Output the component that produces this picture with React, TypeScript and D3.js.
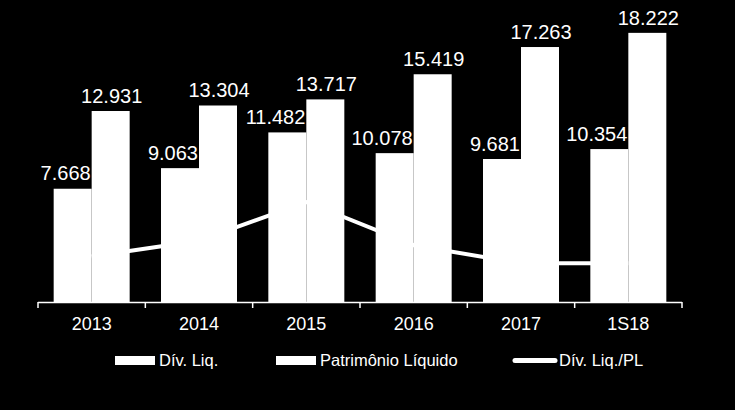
import React from "react";
import * as d3 from "d3";

const categories = ["2013", "2014", "2015", "2016", "2017", "1S18"];
const divLiq = [7.668, 9.063, 11.482, 10.078, 9.681, 10.354];
const patrimonio = [12.931, 13.304, 13.717, 15.419, 17.263, 18.222];
const divPl = [0.6, 0.67, 0.84, 0.65, 0.57, 0.57];
const seriesNames = ["Dív. Liq.", "Patrimônio Líquido", "Dív. Liq./PL"];

const fmt = (v: number) => v.toFixed(3);

export default function App() {
  const W = 735, H = 410;
  const left = 38, right = 682, base = 302, top = 6.6;
  const x = d3.scaleBand<string>().domain(categories).range([left, right]).padding(0);
  const bw = x.bandwidth();
  const x1 = d3.scaleBand<string>().domain(["div", "pl"]).range([bw * 0.146, bw * 0.854]).padding(0);
  const y = d3.scaleLinear().domain([0, 20]).range([base, top]);
  const y2 = d3.scaleLinear().domain([0.4, 1.7]).range([base, top]);
  const line = d3.line<number>()
    .x((_, i) => (x(categories[i]) as number) + bw / 2)
    .y((d) => y2(d));
  const font = "'Liberation Sans', Arial, sans-serif";
  React.useEffect(() => {
    document.body.style.background = "#000";
  }, []);
  const ticks = [...categories.map((c) => x(c) as number), right];
  return (
    <svg width={W} height={H} style={{ position: "fixed", left: 0, top: 0, background: "#000" }} fontFamily={font}>
      <rect x={0} y={0} width={W} height={H} fill="#000" />
      <path d={line(divPl) || ""} fill="none" stroke="#fff" strokeWidth={4} strokeLinejoin="round" />
      {categories.map((c, i) => {
        const gx = x(c) as number;
        const xd = gx + (x1("div") as number);
        const xp = gx + (x1("pl") as number);
        const w = x1.bandwidth();
        return (
          <g key={c}>
            <rect x={xd} y={y(divLiq[i])} width={w} height={base - y(divLiq[i])} fill="#fff" />
            <rect x={xp} y={y(patrimonio[i])} width={w} height={base - y(patrimonio[i])} fill="#fff" />
            <text x={xd + w - 1} y={y(divLiq[i]) - 8.5} fill="#fff" fontSize={20} textAnchor="end">{fmt(divLiq[i])}</text>
            <text x={xp + w / 2 + 1} y={y(patrimonio[i]) - 8} fill="#fff" fontSize={20} textAnchor="middle">{fmt(patrimonio[i])}</text>
            <text x={gx + bw / 2} y={330} fill="#fff" fontSize={18} textAnchor="middle">{c}</text>
          </g>
        );
      })}
      <line x1={left} x2={right} y1={base + 0.5} y2={base + 0.5} stroke="#fff" strokeWidth={1.5} />
      {ticks.map((t, i) => (
        <line key={i} x1={t} x2={t} y1={base} y2={base + 6} stroke="#fff" strokeWidth={1.5} />
      ))}
      <g>
        <rect x={115} y={356} width={40} height={9} fill="#fff" />
        <text x={159} y={366} fill="#fff" fontSize={16.5}>{seriesNames[0]}</text>
        <rect x={276} y={356} width={40} height={9} fill="#fff" />
        <text x={320} y={366} fill="#fff" fontSize={16.5}>{seriesNames[1]}</text>
        <line x1={515} x2={555} y1={360.5} y2={360.5} stroke="#fff" strokeWidth={5} strokeLinecap="round" />
        <text x={559} y={366} fill="#fff" fontSize={16.5}>{seriesNames[2]}</text>
      </g>
    </svg>
  );
}
